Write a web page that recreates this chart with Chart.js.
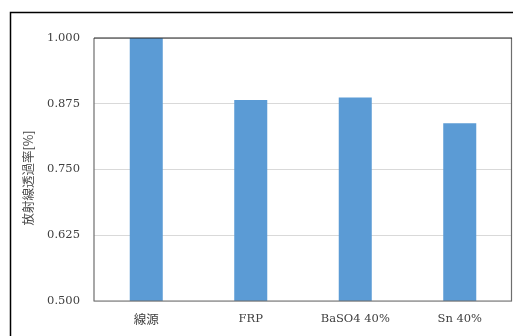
<!DOCTYPE html>
<html>
<head>
<meta charset="utf-8">
<script src="https://cdn.jsdelivr.net/npm/chart.js@4/dist/chart.umd.min.js"></script>
<style>
  html, body { margin: 0; padding: 0; background: #ffffff; }
  canvas { display: block; }
</style>
</head>
<body>
<canvas id="c" width="513" height="336"></canvas>
<script>
// Radiation transmittance by shielding material
const categories = ['線源', 'FRP', 'BaSO4 40%', 'Sn 40%'];
const transmittance = [1.000, 0.882, 0.887, 0.838];
const yTicks = [0.500, 0.625, 0.750, 0.875, 1.000];
const yTitle = '放射線透過率[%]';

const serif = '"DejaVu Serif", "Liberation Serif", "Noto Sans CJK JP", serif';
const cjk = '"Noto Sans CJK JP", sans-serif';

// Outer frame, plot frame and rotated axis title
const framePlugin = {
  id: 'frame',
  beforeDraw(chart) {
    const ctx = chart.ctx;
    ctx.save();
    ctx.fillStyle = '#ffffff';
    ctx.fillRect(0, 0, chart.width, chart.height);
    ctx.strokeStyle = '#000000';
    ctx.lineWidth = 1.5;
    ctx.beginPath();
    ctx.moveTo(10.5, chart.height + 5);
    ctx.lineTo(10.5, 12.5);
    ctx.lineTo(chart.width + 5, 12.5);
    ctx.stroke();
    ctx.restore();
  },
  afterDatasetsDraw(chart) {
    const ctx = chart.ctx;
    const a = chart.chartArea;
    ctx.save();
    ctx.lineWidth = 1.2;
    ctx.strokeStyle = '#6e6e6e';
    ctx.beginPath();
    ctx.moveTo(a.left, a.top);
    ctx.lineTo(a.left, a.bottom);
    ctx.lineTo(a.right - 0.5, a.bottom);
    ctx.lineTo(a.right - 0.5, a.top);
    ctx.stroke();
    ctx.strokeStyle = '#222222';
    ctx.beginPath();
    ctx.moveTo(a.left, a.top);
    ctx.lineTo(a.right, a.top);
    ctx.stroke();

    ctx.translate(28, 178);
    ctx.rotate(-Math.PI / 2);
    ctx.fillStyle = '#4a4a4a';
    ctx.font = '12.5px ' + cjk;
    ctx.textAlign = 'center';
    ctx.textBaseline = 'middle';
    ctx.fillText(yTitle, 0, 0);
    ctx.restore();
  }
};

new Chart(document.getElementById('c'), {
  type: 'bar',
  data: {
    labels: categories,
    datasets: [{
      data: transmittance,
      backgroundColor: '#5b9bd5',
      borderWidth: 0,
      barPercentage: 0.316,
      categoryPercentage: 1.0
    }]
  },
  options: {
    responsive: false,
    animation: false,
    devicePixelRatio: 1,
    layout: { padding: { left: 0, right: 1, top: 38, bottom: 0 } },
    plugins: {
      legend: { display: false },
      tooltip: { enabled: false }
    },
    scales: {
      x: {
        grid: { display: false, drawTicks: false },
        border: { display: false },
        ticks: {
          padding: 11,
          color: '#404040',
          font: (c) => (c.index === 0
            ? { family: cjk, size: 12.5 }
            : { family: serif, size: 11.5 })
        },
        afterFit(scale) { scale.height = 35; }
      },
      y: {
        min: 0.5,
        max: 1.0,
        afterBuildTicks(scale) {
          scale.ticks = yTicks.map(v => ({ value: v }));
        },
        grid: { color: '#d9d9d9', lineWidth: 1, drawTicks: false },
        border: { display: false },
        ticks: {
          padding: 14,
          color: '#404040',
          font: { family: serif, size: 11.5 },
          callback: v => Number(v).toFixed(3)
        },
        afterFit(scale) { scale.width = 94; }
      }
    }
  },
  plugins: [framePlugin]
});
</script>
</body>
</html>
